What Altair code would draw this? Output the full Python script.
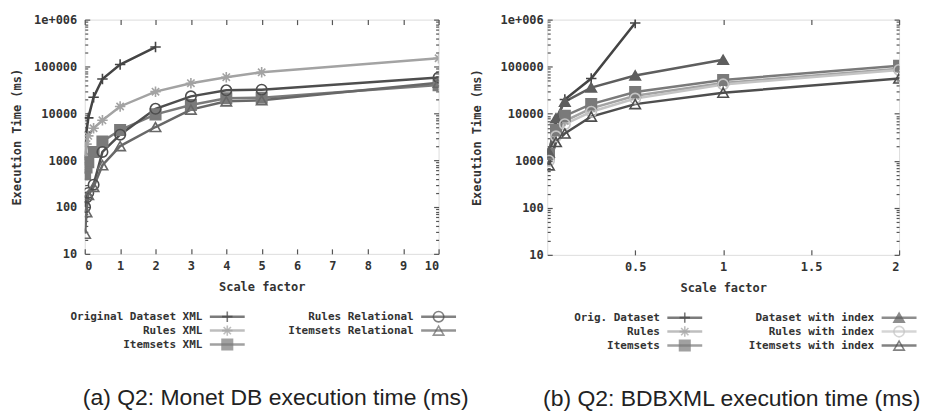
import altair as alt
import pandas as pd

# ---------------- Panel (a): Monet DB ----------------
a_names = ["Original Dataset XML", "Rules XML", "Itemsets XML",
           "Rules Relational", "Itemsets Relational"]
a_x_short = [0.01, 0.05, 0.1, 0.25, 0.5, 1, 2]
a_x_long = [0.01, 0.05, 0.1, 0.25, 0.5, 1, 2, 3, 4, 5, 10]
a_orig = [1000, 4000, 8000, 22000, 54000, 110000, 260000]
a_rules = [1200, 2200, 3300, 4800, 7100, 14000, 29000, 44000, 59000, 75000, 150000]
a_items = [500, 700, 900, 1500, 2500, 4400, 9500, 15000, 21000, 21500, 40000]
a_rrel = [100, 160, 200, 300, 1500, 3500, 12500, 23000, 31000, 32000, 58000]
a_irel = [27, 78, 180, 270, 780, 2000, 5100, 12000, 18000, 19000, 45000]
a_xticks = [0, 1, 2, 3, 4, 5, 6, 7, 8, 9, 10]

# ---------------- Panel (b): BDBXML ----------------
b_names = ["Orig. Dataset", "Rules", "Itemsets",
           "Dataset with index", "Rules with index", "Itemsets with index"]
b_x_orig = [0.01, 0.05, 0.1, 0.25, 0.5]
b_x_dwi = [0.01, 0.05, 0.1, 0.25, 0.5, 1]
b_x_all = [0.01, 0.05, 0.1, 0.25, 0.5, 1, 2]
b_orig = [1500, 7000, 20000, 56000, 850000]
b_rules = [1200, 3800, 7000, 13000, 24000, 45000, 90000]
b_items = [1400, 4500, 9000, 16000, 29000, 52000, 105000]
b_dwi = [1500, 8000, 18000, 36000, 65000, 140000]
b_rwi = [1000, 3300, 6000, 11000, 21000, 42000, 85000]
b_iwi = [800, 2500, 3800, 8700, 16000, 28000, 56000]
b_xticks = [0.5, 1, 1.5, 2]

y_major = [10, 100, 1000, 10000, 100000, 1000000]
y_minor = [m * d for d in [10, 100, 1000, 10000, 100000] for m in range(2, 10)]

PLUS = "M-1,0L1,0M0,-1L0,1"
STAR = "M-1,0L1,0M0,-1L0,1M-0.7,-0.7L0.7,0.7M-0.7,0.7L0.7,-0.7"
HLINE = "M-1,0L1,0"

FONT = "DejaVu Sans Mono"
FRAME = "#777777"
TICK = "#555555"


def long_df(names, xs_list, ys_list):
    rows = []
    for name, xs, ys in zip(names, xs_list, ys_list):
        for x, y in zip(xs, ys):
            rows.append({"series": name, "x": x, "y": y})
    return pd.DataFrame(rows)


def axis_common(**kw):
    base = dict(domain=False, grid=False, tickColor=TICK, tickWidth=1.2,
                labelFont=FONT, labelFontSize=12, labelFontWeight="bold",
                labelColor="#333333", titleFont=FONT, titleFontSize=12,
                titleFontWeight="bold", titleColor="#333333")
    base.update(kw)
    return alt.Axis(**base)


def panel(df, names, colors, shapes, fills, xdomain, xticks, w, h,
          ylabpad, ytitlepad, lg_text_end, lg_gap):
    color = alt.Color("series:N", scale=alt.Scale(domain=names, range=colors), legend=None)
    shape = alt.Shape("series:N", scale=alt.Scale(domain=names, range=shapes), legend=None)
    fill = alt.Fill("series:N", scale=alt.Scale(domain=names, range=fills), legend=None)
    xs = alt.Scale(domain=xdomain, nice=False, zero=False)
    ys = alt.Scale(type="log", domain=[10, 1000000], nice=False)
    base = alt.Chart(df)

    lines = base.mark_line(strokeWidth=2.5, clip=True).encode(
        x=alt.X("x:Q", scale=xs, axis=axis_common(
            values=xticks, title="Scale factor", orient="bottom", tickSize=5,
            offset=-5, labelPadding=7, titlePadding=10,
            labelExpr="'' + datum.value")),
        y=alt.Y("y:Q", scale=ys, axis=axis_common(
            values=y_major, orient="left", tickSize=5, offset=-5,
            labelPadding=ylabpad, titlePadding=ytitlepad,
            title="Execution Time (ms)",
            labelExpr="datum.value >= 1000000 ? '1e+006' : format(datum.value, 'd')")),
        color=color, order="x:Q")
    pts = base.mark_point(filled=False, strokeWidth=1.6, size=110, opacity=1, clip=True).encode(
        x=alt.X("x:Q", scale=xs, axis=axis_common(
            values=xticks, orient="top", labels=False, title=None,
            tickSize=5, offset=-5)),
        y=alt.Y("y:Q", scale=ys, axis=axis_common(
            values=y_major, orient="right", labels=False, title=None,
            tickSize=5, offset=-5)),
        color=color, shape=shape, fill=fill)
    minl = base.mark_point(opacity=0).encode(
        x=alt.X("x:Q", scale=xs, axis=None),
        y=alt.Y("y:Q", scale=ys, axis=axis_common(
            values=y_minor, orient="left", labels=False, title=None,
            tickSize=3, offset=-3)))
    minr = base.mark_point(opacity=0).encode(
        x=alt.X("x:Q", scale=xs, axis=None),
        y=alt.Y("y:Q", scale=ys, axis=axis_common(
            values=y_minor, orient="right", labels=False, title=None,
            tickSize=3, offset=-3)))
    plot = alt.layer(lines, pts, minl, minr).resolve_axis(
        x="independent", y="independent").properties(width=w, height=h)

    # legend (gnuplot style: right-aligned label, then line sample with marker)
    lg = pd.DataFrame({"series": names,
                       "col": [i // 3 for i in range(len(names))],
                       "row": [i % 3 for i in range(len(names))]})
    lx = alt.X("col:Q", scale=alt.Scale(domain=[0, 1], range=lg_text_end), axis=None)
    ly = alt.Y("row:Q", scale=alt.Scale(domain=[0, 2], range=[0, 28]), axis=None)
    lbase = alt.Chart(lg)
    ltext = lbase.mark_text(align="right", baseline="middle", font=FONT,
                            fontSize=11, fontWeight="bold", color="#333333",
                            dx=-3).encode(x=lx, y=ly, text="series:N")
    lline = lbase.mark_point(shape=HLINE, size=1225, strokeWidth=2.5, filled=False,
                             xOffset=lg_gap).encode(x=lx, y=ly, color=color)
    lmark = lbase.mark_point(filled=False, strokeWidth=1.6, size=110,
                             xOffset=lg_gap).encode(x=lx, y=ly, color=color,
                                                    shape=shape, fill=fill)
    legend = alt.layer(ltext, lline, lmark).properties(
        width=w, height=28, view=alt.ViewBackground(stroke="transparent"))
    return plot, legend


dfa = long_df(a_names, [a_x_short, a_x_long, a_x_long, a_x_long, a_x_long],
              [a_orig, a_rules, a_items, a_rrel, a_irel])
dfb = long_df(b_names, [b_x_orig, b_x_all, b_x_all, b_x_dwi, b_x_all, b_x_all],
              [b_orig, b_rules, b_items, b_dwi, b_rwi, b_iwi])

a_colors = ["#444444", "#a3a3a3", "#7a7a7a", "#4e4e4e", "#686868"]
a_shapes = [PLUS, STAR, "square", "circle", "triangle-up"]
a_fills = ["transparent", "transparent", "#7a7a7a", "transparent", "transparent"]

b_colors = ["#444444", "#a3a3a3", "#7a7a7a", "#5e5e5e", "#c4c4c4", "#4e4e4e"]
b_shapes = [PLUS, STAR, "square", "triangle-up", "circle", "triangle-up"]
b_fills = ["transparent", "transparent", "#7a7a7a", "#5e5e5e", "transparent", "transparent"]

pa, la = panel(dfa, a_names, a_colors, a_shapes, a_fills, [0, 10], a_xticks,
               355, 235, 8, 10, [121, 333], 22)
pb, lb = panel(dfb, b_names, b_colors, b_shapes, b_fills, [0, 2], b_xticks,
               353, 236, 4, 17, [116, 331], 22)

cap = dict(orient="bottom", anchor="middle", font="Liberation Sans",
           fontSize=23, fontWeight="normal", color="#222222", offset=34)
va = alt.vconcat(pa, la, spacing=14).properties(
    title=alt.TitleParams("(a) Q2: Monet DB execution time (ms)", dx=40, **cap))
vb = alt.vconcat(pb, lb, spacing=14).properties(
    title=alt.TitleParams("(b) Q2: BDBXML execution time (ms)", dx=36, **cap))

chart = alt.hconcat(va, vb, spacing=0).resolve_scale(
    color="independent", shape="independent", fill="independent"
).properties(
    padding={"left": 2, "top": 4, "right": 0, "bottom": 0}
).configure_view(stroke=FRAME, strokeWidth=1.5).configure(background="white")

chart.save("out.html", embed_options={"renderer": "svg", "actions": False})
